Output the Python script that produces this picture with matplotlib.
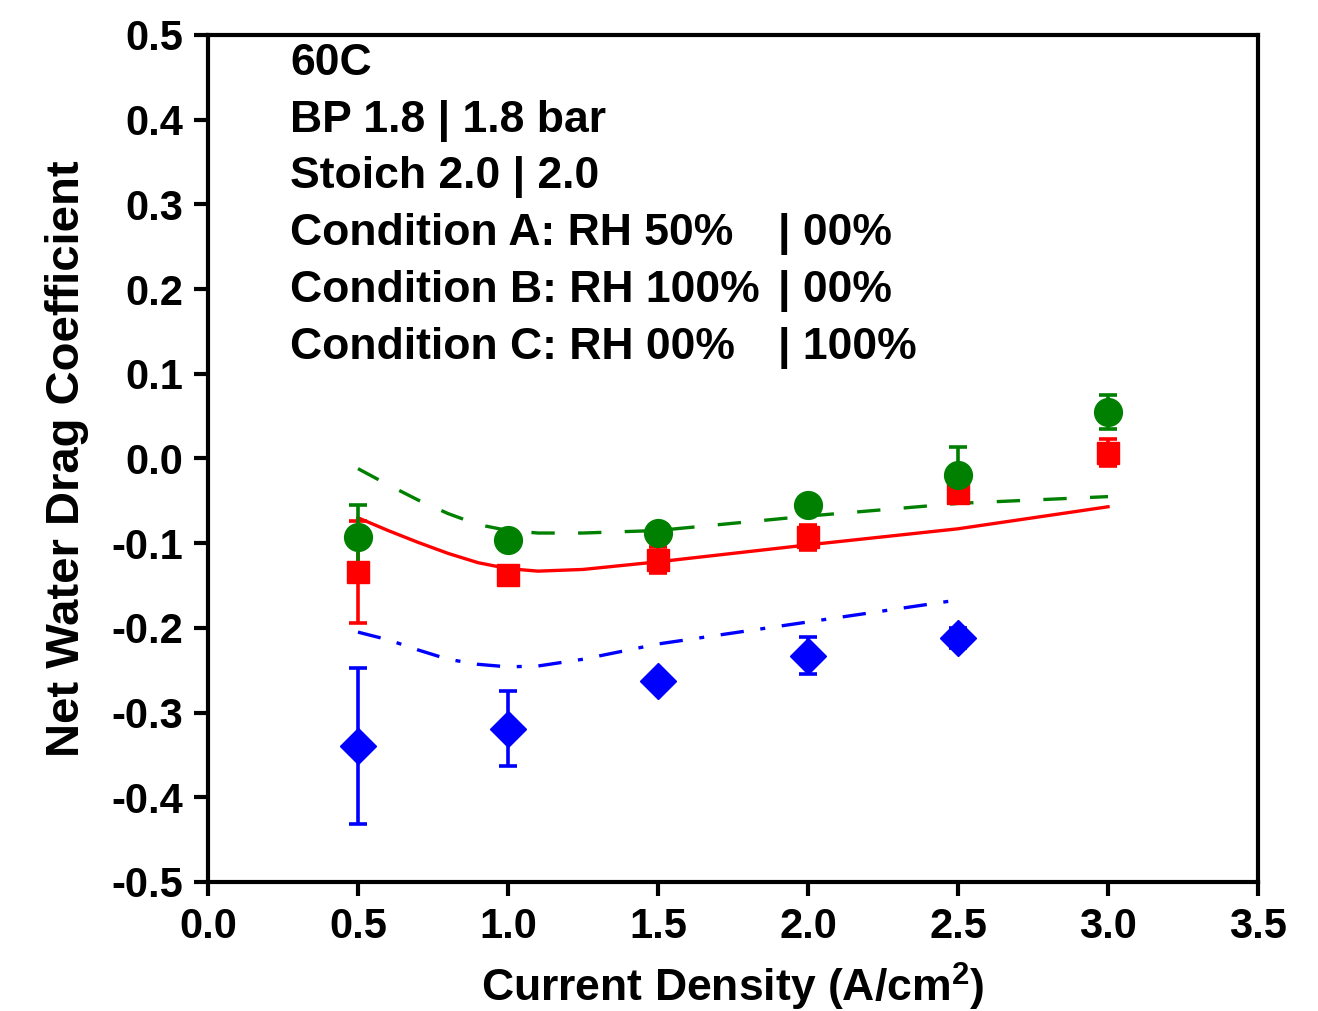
import matplotlib.pyplot as plt
import numpy as np

plt.rcParams['font.family'] = ['Liberation Sans', 'DejaVu Sans']
plt.rcParams['font.weight'] = 'bold'
plt.rcParams['axes.labelweight'] = 'bold'
plt.rcParams['mathtext.fontset'] = 'custom'
plt.rcParams['mathtext.rm'] = 'Liberation Sans:bold'
plt.rcParams['mathtext.bf'] = 'Liberation Sans:bold'

# measured points (current density, A/cm2)
j_meas = [0.5, 1.0, 1.5, 2.0, 2.5, 3.0]
j_meas_c = [0.5, 1.0, 1.5, 2.0, 2.5]

ndc_a = [-0.134, -0.137, -0.120, -0.093, -0.041, 0.007]
err_a = [0.060, 0.010, 0.015, 0.015, 0.010, 0.016]

ndc_b = [-0.093, -0.096, -0.088, -0.055, -0.019, 0.055]
err_b = [0.038, 0.008, 0.010, 0.010, 0.033, 0.020]

ndc_c = [-0.339, -0.319, -0.263, -0.233, -0.212]
err_c = [0.092, 0.044, 0.008, 0.022, 0.012]

# model curves
j_model = [0.5, 0.6, 0.7, 0.8, 0.9, 1.0, 1.1, 1.25, 1.5, 2.0, 2.5, 3.0]
j_model_c = [0.5, 0.6, 0.7, 0.8, 0.9, 1.0, 1.1, 1.25, 1.5, 2.0, 2.5]
model_a = [-0.070, -0.085, -0.099, -0.112, -0.123, -0.130, -0.133, -0.131, -0.122, -0.102, -0.083, -0.057]
model_b = [-0.012, -0.031, -0.049, -0.065, -0.078, -0.085, -0.088, -0.088, -0.085, -0.068, -0.053, -0.045]
model_c = [-0.205, -0.214, -0.226, -0.237, -0.243, -0.246, -0.245, -0.237, -0.219, -0.193, -0.167]

fig = plt.figure(figsize=(13.18, 10.11), dpi=100)
ax = fig.add_axes([0.1578, 0.1276, 0.7967, 0.8378])

ax.plot(j_model, model_a, '-', color='#ff0000', lw=2.4)
ax.plot(j_model, model_b, '--', color='#008000', lw=2.4, dashes=(7, 7))
ax.plot(j_model_c, model_c, '-.', color='#0000ff', lw=2.4, dashes=(7, 5, 1.5, 5))

ax.errorbar(j_meas, ndc_a, yerr=err_a, fmt='s', color='#ff0000', ms=16,
            elinewidth=2.6, capsize=6.5, capthick=2.6)
ax.errorbar(j_meas, ndc_b, yerr=err_b, fmt='o', color='#008000', ms=20,
            elinewidth=2.6, capsize=6.5, capthick=2.6)
ax.errorbar(j_meas_c, ndc_c, yerr=err_c, fmt='D', color='#0000ff', ms=18,
            elinewidth=2.6, capsize=6.5, capthick=2.6)

xt = np.round(np.arange(0, 3.51, 0.5), 1)
yt = np.round(np.arange(-0.5, 0.51, 0.1), 1) + 0.0
ax.set_xlim(0, 3.5)
ax.set_ylim(-0.5, 0.5)
ax.set_xticks(xt)
ax.set_yticks(yt)
ax.set_xticklabels(['%.1f' % v for v in xt])
ax.set_yticklabels(['%.1f' % abs(v) if v == 0 else '%.1f' % v for v in yt])
ax.tick_params(direction='out', length=10, width=3, labelsize=30, pad=8)
for s in ax.spines.values():
    s.set_linewidth(3)

ax.set_xlabel('Current Density (A/cm$^{2}$)', fontsize=32, labelpad=10)
ax.set_ylabel('Net Water Drag Coefficient', fontsize=34, labelpad=16)

# condition notes
lines_left = ['60C', 'BP 1.8 | 1.8 bar', 'Stoich 2.0 | 2.0',
              'Condition A: RH 50%', 'Condition B: RH 100%', 'Condition C: RH 00%']
lines_right = [None, None, None, '| 00%', '| 00%', '| 100%']
y0 = 0.9528
for i, (l, r) in enumerate(zip(lines_left, lines_right)):
    y = y0 - i * 0.0670
    ax.text(0.078, y, l, transform=ax.transAxes, fontsize=32, va='baseline')
    if r:
        ax.text(0.543, y, r, transform=ax.transAxes, fontsize=32, va='baseline')

fig.savefig('out.png', dpi=100)
